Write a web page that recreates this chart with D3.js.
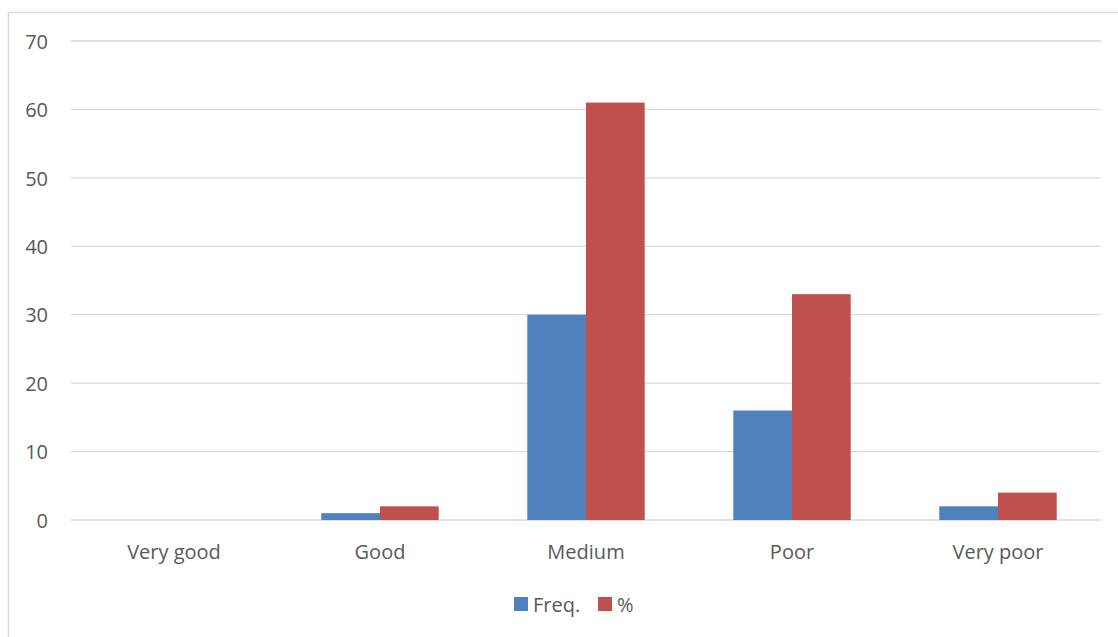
<!DOCTYPE html>
<html>
<head>
<meta charset="utf-8">
<script src="https://cdn.jsdelivr.net/npm/d3@7"></script>
<style>
  html, body { margin: 0; padding: 0; background: #fff; }
  svg { display: block; }
  text { font-family: "Open Sans", "Noto Sans", sans-serif; fill: #595959; }
</style>
</head>
<body>
<svg id="chart" width="1118" height="637"></svg>
<script>
// Ratings and their frequency / percentage values
const categories = ["Very good", "Good", "Medium", "Poor", "Very poor"];
const freqValues = [0, 1, 30, 16, 2];
const pctValues = [0, 2, 61, 33, 4];
const seriesNames = ["Freq.", "%"];
const seriesColors = ["#4F81BD", "#C0504D"];
const yTicks = [0, 10, 20, 30, 40, 50, 60, 70];

const svg = d3.select("#chart");
const W = 1118, H = 637;
const FONT = 20;

// outer chart frame
svg.append("rect")
  .attr("x", 8.5).attr("y", 12.5)
  .attr("width", W + 10).attr("height", H + 10)
  .attr("fill", "none").attr("stroke", "#d9d9d9").attr("stroke-width", 1.5);

const plot = { left: 71, right: 1101, top: 41, bottom: 520 };

const x = d3.scaleBand().domain(categories).range([plot.left, plot.right]).padding(0);
const y = d3.scaleLinear().domain([0, 70]).range([plot.bottom, plot.top]);

// horizontal gridlines
svg.append("g").selectAll("line").data(yTicks).join("line")
  .attr("x1", plot.left).attr("x2", plot.right)
  .attr("y1", d => y(d)).attr("y2", d => y(d))
  .attr("stroke", "#d9d9d9").attr("stroke-width", 1.3);

// y axis labels
const yAxis = svg.append("g").attr("transform", `translate(${plot.left - 23},0)`)
  .call(d3.axisLeft(y).tickValues(yTicks).tickSize(0).tickPadding(0));
yAxis.select(".domain").remove();
yAxis.selectAll("text")
  .attr("font-size", FONT).attr("dy", "0.36em")
  .style("font-family", "'Open Sans', 'Noto Sans', sans-serif").attr("fill", "#595959");

// grouped bars
const barW = x.bandwidth() * 0.285;
const groups = svg.append("g").selectAll("g").data(categories).join("g")
  .attr("transform", d => `translate(${x(d) + x.bandwidth() / 2},0)`);

const series = [freqValues, pctValues];
series.forEach((vals, si) => {
  groups.append("rect")
    .attr("x", si === 0 ? -barW : 0)
    .attr("width", barW)
    .attr("y", (d, i) => y(vals[i]))
    .attr("height", (d, i) => y(0) - y(vals[i]))
    .attr("fill", seriesColors[si]);
});

// x category labels
const xAxis = svg.append("g").attr("transform", `translate(0,${plot.bottom})`)
  .call(d3.axisBottom(x).tickSize(0).tickPadding(0));
xAxis.select(".domain").remove();
xAxis.selectAll("text")
  .attr("font-size", FONT).attr("y", 39).attr("dy", 0)
  .style("font-family", "'Open Sans', 'Noto Sans', sans-serif").attr("fill", "#595959");

// legend
const legend = svg.append("g").attr("transform", "translate(514,597)");
const legendX = [0, 84];
seriesNames.forEach((name, i) => {
  legend.append("rect").attr("x", legendX[i]).attr("y", 0)
    .attr("width", 14).attr("height", 14).attr("fill", seriesColors[i]);
  legend.append("text").attr("x", legendX[i] + 19).attr("y", 15)
    .attr("font-size", FONT).text(name);
});
</script>
</body>
</html>
